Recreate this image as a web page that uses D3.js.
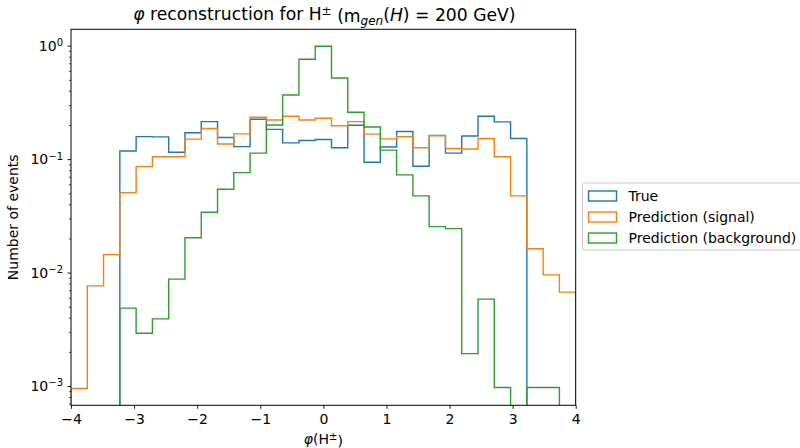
<!DOCTYPE html>
<html>
<head>
<meta charset="utf-8">
<script src="https://cdn.jsdelivr.net/npm/d3@7"></script>
<style>
body { margin: 0; background: #fff; }
svg, svg text { font-family: "DejaVu Sans", sans-serif; }
</style>
</head>
<body>
<div id="chart"></div>
<script>
var W = 800, H = 448;
var margin = {top: 29.3, right: 224.3, bottom: 42.7, left: 71};
var width = W - margin.left - margin.right;
var height = H - margin.top - margin.bottom;

// histogram setup: 31 bins between -4 and 4
var xRange = [-4, 4];
var nBins = 31;
var xTicks = [-4, -3, -2, -1, 0, 1, 2, 3, 4];
var yMajor = [1, 0.1, 0.01, 0.001];
var yMajorExp = ["0", "\u22121", "\u22122", "\u22123"];

var seriesNames = ["True", "Prediction (signal)", "Prediction (background)"];
var colors = ["#1f77b4", "#ff7f0e", "#2ca02c"];

// bin contents
var trueVals = [0, 0, 0, 0.118, 0.158, 0.157, 0.115, 0.171, 0.214, 0.155, 0.129,
  0.225, 0.183, 0.139, 0.146, 0.149, 0.126, 0.199, 0.094, 0.128, 0.175,
  0.0866, 0.162, 0.113, 0.160, 0.239, 0.213, 0.152, 0, 0, 0];
var signalVals = [0.00095, 0.00763, 0.0144, 0.0507, 0.0859, 0.105, 0.105, 0.150, 0.186, 0.136, 0.167,
  0.234, 0.221, 0.239, 0.221, 0.229, 0.197, 0.214, 0.166, 0.151, 0.158,
  0.126, 0.161, 0.124, 0.123, 0.152, 0.105, 0.0474, 0.0162, 0.00955, 0.00672];
var backgroundVals = [0, 0, 0, 0.00486, 0.00292, 0.00391, 0.00875, 0.0203, 0.034, 0.0543, 0.076,
  0.113, 0.200, 0.368, 0.759, 0.99, 0.519, 0.259, 0.192, 0.120, 0.0726,
  0.0474, 0.0254, 0.0244, 0.00193, 0.00583, 0.00097, 0, 0.00097, 0.00097, 0];

var allSeries = [trueVals, signalVals, backgroundVals];

var edges = d3.range(nBins + 1).map(function(i){
  return xRange[0] + (xRange[1] - xRange[0]) * i / nBins;
});

var svg = d3.select("#chart")
            .append("svg")
            .attr("width", W)
            .attr("height", H);

var x = d3.scaleLinear().domain(xRange).range([0, width]);
var y = d3.scaleLog().domain([6.76e-4, 1.395]).range([height, 0]);

svg.append("defs").append("clipPath")
   .attr("id", "plotclip")
   .append("rect")
   .attr("width", width)
   .attr("height", height);

var g = svg.append("g")
           .attr("transform", "translate(" + margin.left + "," + margin.top + ")");

// step outlines
var line = d3.line()
             .x(function(d){ return d[0]; })
             .y(function(d){ return d[1]; });

function yPos(v){
  if (v <= 0) { return height + 20; }
  return y(v);
}

function stepPoints(vals){
  var pts = [[x(edges[0]), height + 20]];
  for (var i = 0; i < vals.length; i++){
    pts.push([x(edges[i]), yPos(vals[i])]);
    pts.push([x(edges[i + 1]), yPos(vals[i])]);
  }
  pts.push([x(edges[vals.length]), height + 20]);
  return pts;
}

g.append("g")
 .attr("clip-path", "url(#plotclip)")
 .selectAll("path")
 .data(allSeries)
 .enter()
 .append("path")
 .attr("d", function(d){ return line(stepPoints(d)); })
 .attr("fill", "none")
 .attr("stroke", function(d, i){ return colors[i]; })
 .attr("stroke-width", 1.4)
 .attr("stroke-linejoin", "miter");

// x axis
var xAxis = g.append("g")
             .attr("transform", "translate(0," + height + ")")
             .call(d3.axisBottom(x)
                     .tickValues(xTicks)
                     .tickSize(3.5)
                     .tickPadding(5.5)
                     .tickFormat(function(d){ return d < 0 ? "\u2212" + Math.abs(d) : d; }));
xAxis.attr("font-family", null).attr("font-size", null);
xAxis.select(".domain").remove();
xAxis.selectAll("line").attr("stroke", "#000").attr("stroke-width", 0.9);
xAxis.selectAll("text")
     .attr("fill", "#000")
     .style("font-size", "14px");

// y axis: minor ticks
var yMinor = [];
[-4, -3, -2, -1, 0].forEach(function(e){
  for (var k = 2; k <= 9; k++){
    var v = k * Math.pow(10, e);
    if (v >= y.domain()[0] && v <= y.domain()[1]) yMinor.push(v);
  }
});
var yMinorAxis = g.append("g")
                  .call(d3.axisLeft(y).tickValues(yMinor).tickSize(2).tickFormat(""));
yMinorAxis.select(".domain").remove();
yMinorAxis.selectAll("line").attr("stroke", "#000").attr("stroke-width", 0.7);

var yAxis = g.append("g")
             .call(d3.axisLeft(y).tickValues(yMajor).tickSize(3.5).tickFormat(""));
yAxis.attr("font-family", null).attr("font-size", null);
yAxis.select(".domain").remove();
yAxis.selectAll("line").attr("stroke", "#000").attr("stroke-width", 0.9);

var yLab = yAxis.selectAll(".tick")
                .append("text")
                .attr("x", -8)
                .attr("y", 0)
                .attr("dy", "0.32em")
                .attr("fill", "#000")
                .attr("text-anchor", "end")
                .style("font-size", "14px");
yLab.append("tspan").text("10");
yLab.append("tspan")
    .attr("dy", "-0.45em")
    .style("font-size", "10px")
    .text(function(d, i){ return yMajorExp[i]; });

// frame
g.append("rect")
 .attr("width", width)
 .attr("height", height)
 .attr("fill", "none")
 .attr("stroke", "#000")
 .attr("stroke-width", 1);

// title
var title = svg.append("text")
               .attr("x", margin.left + width / 2 + 1)
               .attr("y", 20)
               .attr("text-anchor", "middle")
               .attr("fill", "#000")
               .style("font-size", "17.2px");
title.append("tspan").style("font-style", "italic").text("\u03c6");
title.append("tspan").text(" reconstruction for H");
title.append("tspan").attr("dy", "-0.45em").style("font-size", "12px").text("\u00b1");
title.append("tspan").attr("dy", "0.45em").text("  (m");
title.append("tspan").attr("dy", "0.25em").style("font-size", "12px").style("font-style", "italic").text("gen");
title.append("tspan").attr("dy", "-0.25em").text("(");
title.append("tspan").style("font-style", "italic").text("H");
title.append("tspan").text(") = 200 GeV)");

// axis labels
var xl = svg.append("text")
            .attr("x", margin.left + width / 2)
            .attr("y", 444)
            .attr("text-anchor", "middle")
            .attr("fill", "#000")
            .style("font-size", "14px");
xl.append("tspan").style("font-style", "italic").text("\u03c6");
xl.append("tspan").text("(H");
xl.append("tspan").attr("dy", "-0.45em").style("font-size", "10px").text("\u00b1");
xl.append("tspan").attr("dy", "0.45em").text(")");

svg.append("text")
   .attr("transform", "translate(18," + (margin.top + height / 2) + ") rotate(-90)")
   .attr("text-anchor", "middle")
   .attr("fill", "#000")
   .style("font-size", "14px")
   .text("Number of events");

// legend
var legend = svg.append("g").attr("transform", "translate(582.5,183)");
legend.append("rect")
      .attr("width", 230)
      .attr("height", 67)
      .attr("rx", 2.5)
      .attr("fill", "#fff")
      .attr("fill-opacity", 0.8)
      .attr("stroke", "#ccc")
      .attr("stroke-width", 1);
var items = legend.selectAll(".item")
                  .data(seriesNames)
                  .enter()
                  .append("g")
                  .attr("class", "item")
                  .attr("transform", function(d, i){ return "translate(0," + (13 + i * 21) + ")"; });
items.append("rect")
     .attr("x", 6)
     .attr("y", -5)
     .attr("width", 28)
     .attr("height", 10)
     .attr("fill", "none")
     .attr("stroke", function(d, i){ return colors[i]; })
     .attr("stroke-width", 1.4);
items.append("text")
     .attr("x", 46)
     .attr("dy", "0.35em")
     .attr("fill", "#000")
     .style("font-size", "14px")
     .text(function(d){ return d; });
</script>
</body>
</html>
